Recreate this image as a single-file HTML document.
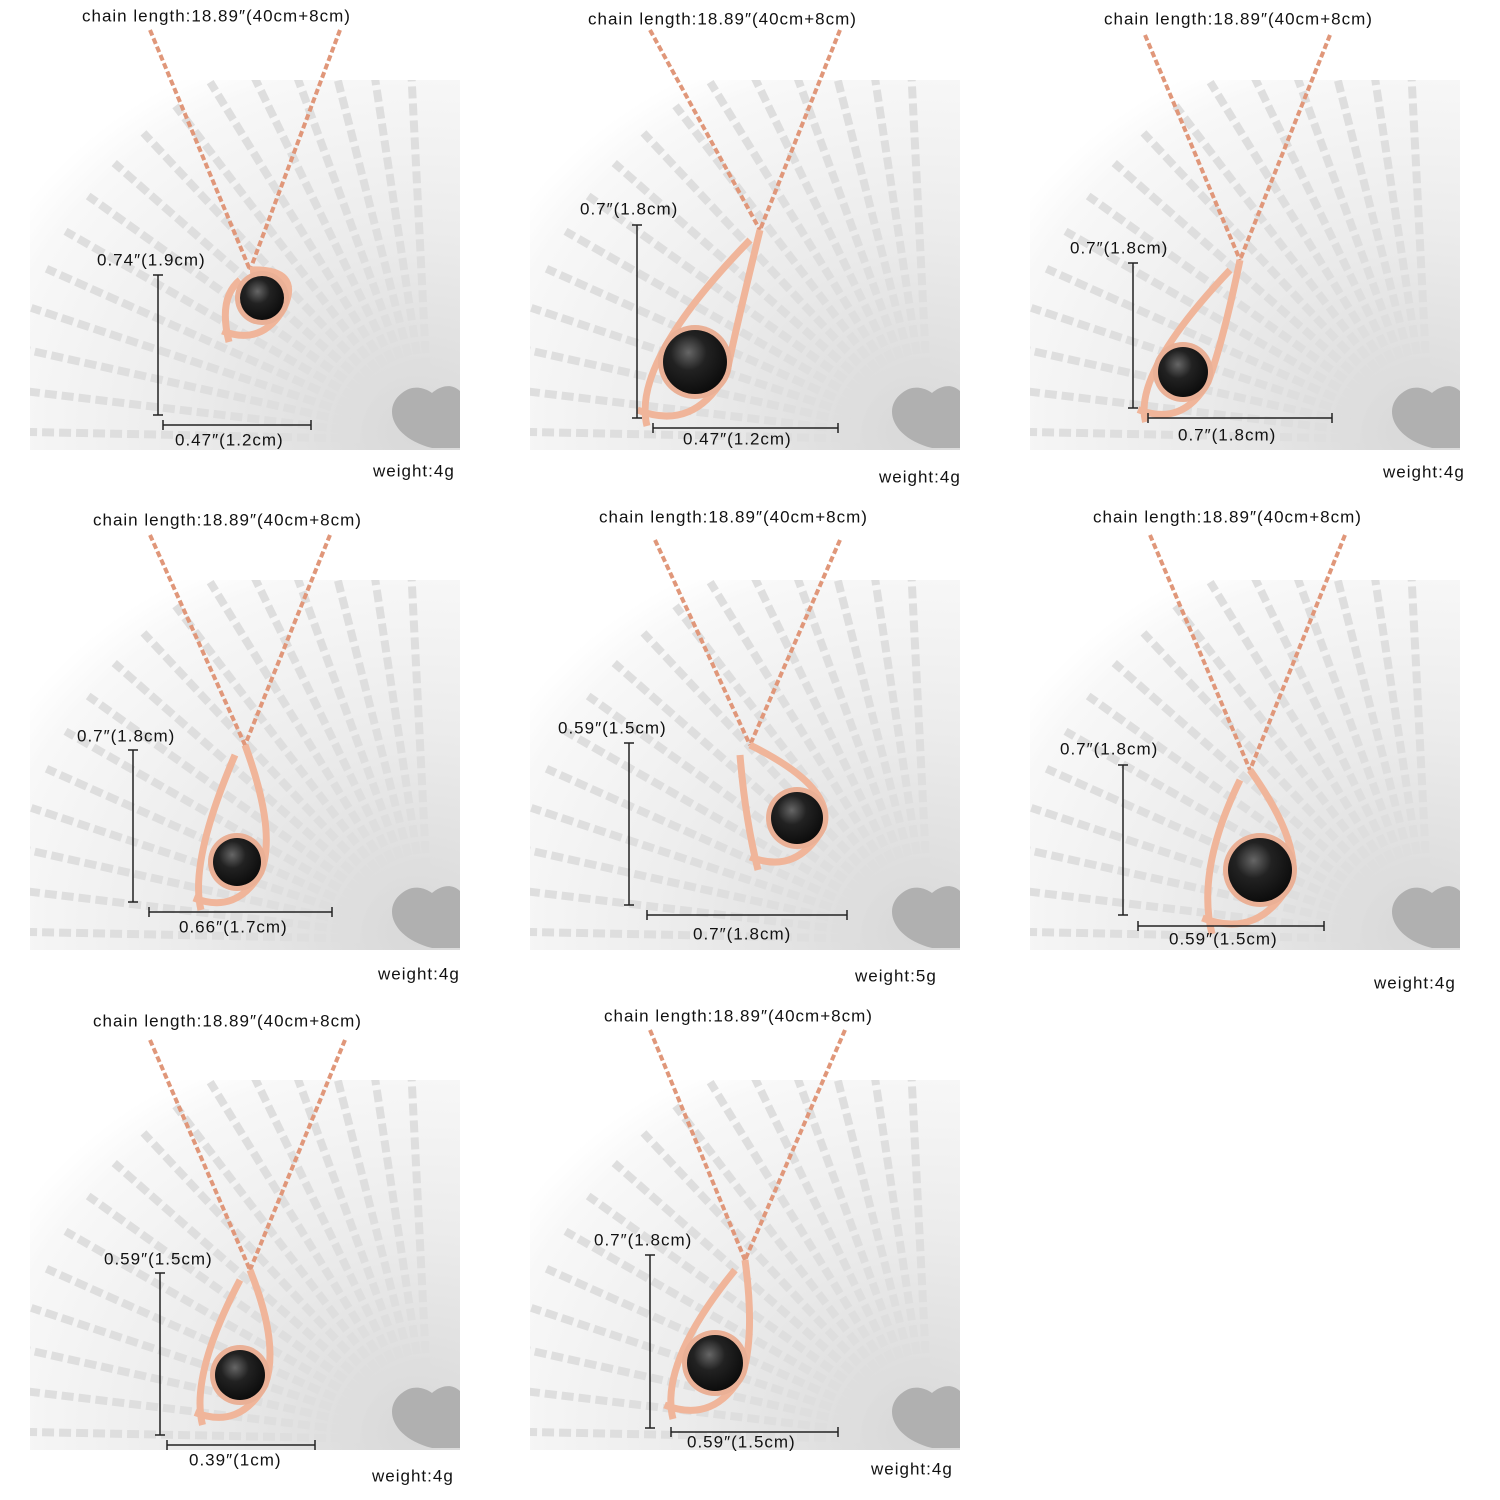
<!DOCTYPE html>
<html><head><meta charset="utf-8"><style>
html,body{margin:0;padding:0;background:#fff;overflow:hidden;width:1500px;height:1500px;}
svg{display:block;overflow:hidden;}
text{font-family:"Liberation Sans","Noto Sans CJK SC",sans-serif;font-size:17px;fill:#111;letter-spacing:1px;dominant-baseline:middle;}
</style></head><body>
<svg width="1500" height="1500" viewBox="0 0 1500 1500" xmlns="http://www.w3.org/2000/svg">
<defs>
<radialGradient id="bg" cx="0.9" cy="0.95" r="1.1">
<stop offset="0" stop-color="#d8d8d8"/><stop offset="0.5" stop-color="#ececec"/><stop offset="0.9" stop-color="#f8f8f8"/><stop offset="1" stop-color="#fff"/>
</radialGradient>
<radialGradient id="ball" cx="0.4" cy="0.35" r="0.7">
<stop offset="0" stop-color="#666"/><stop offset="0.4" stop-color="#222"/><stop offset="1" stop-color="#0a0a0a"/>
</radialGradient>
</defs>
<g id="panels"></g>
</svg>
<script>
const P=[
[0,0,[82,17],[97,261],[158,275,415],[425,163,311],[175,441],[373,472],[262,298,22],[150,30,340,30,250,270]],
[500,0,[588,20],[580,210],[637,225,418],[428,653,838],[683,440],[879,478],[695,362,32],[650,30,840,30,760,230]],
[1000,0,[1104,20],[1070,249],[1133,263,408],[418,1148,1332],[1178,436],[1383,473],[1183,372,25],[1145,35,1330,35,1240,260]],
[0,500,[93,521],[77,737],[133,750,902],[912,149,332],[179,928],[378,975],[237,862,24],[150,535,330,535,245,745]],
[500,500,[599,518],[558,729],[629,743,905],[915,647,847],[693,935],[855,977],[797,818,26],[655,540,840,540,750,745]],
[1000,500,[1093,518],[1060,750],[1123,765,915],[926,1138,1324],[1169,940],[1374,984],[1260,870,32],[1150,535,1345,535,1250,770]],
[0,1000,[93,1022],[104,1260],[160,1273,1435],[1445,167,315],[189,1461],[372,1477],[240,1375,25],[150,1040,345,1040,250,1270]],
[500,1000,[604,1017],[594,1241],[650,1255,1428],[1432,671,838],[687,1443],[871,1470],[715,1363,28],[650,1030,845,1030,745,1260]]
];
const vl=["0.74″(1.9cm)","0.7″(1.8cm)","0.7″(1.8cm)","0.7″(1.8cm)","0.59″(1.5cm)","0.7″(1.8cm)","0.59″(1.5cm)","0.7″(1.8cm)"];
const hl=["0.47″(1.2cm)","0.47″(1.2cm)","0.7″(1.8cm)","0.66″(1.7cm)","0.7″(1.8cm)","0.59″(1.5cm)","0.39″(1cm)","0.59″(1.5cm)"];
const wt=["weight:4g","weight:4g","weight:4g","weight:4g","weight:5g","weight:4g","weight:4g","weight:4g"];
let s="";
P.forEach((p,i)=>{
const [ox,oy,t,v,vv,hh,h,w,b,c]=p;
const rx=ox+30,ry=oy+80,rw=430,rh=370;
s+=`<clipPath id="cp${i}"><rect x="${rx}" y="${ry}" width="${rw}" height="${rh}"/></clipPath>`;
s+=`<g clip-path="url(#cp${i})"><rect x="${rx}" y="${ry}" width="${rw}" height="${rh}" fill="url(#bg)"/>`;
for(let k=0;k<16;k++){const a=0.02+k*0.1;const cx=ox+430,cy=oy+440;
s+=`<line x1="${cx-70*Math.cos(a)}" y1="${cy-70*Math.sin(a)}" x2="${cx-420*Math.cos(a)}" y2="${cy-420*Math.sin(a)}" stroke="#dedede" stroke-width="8" stroke-dasharray="12 5"/>`;}
s+=`<path d="M${ox+432} ${oy+448} c-40 -10 -50 -40 -30 -55 c15 -12 30 0 30 0 c0 0 15 -14 28 -2 l0 57z" fill="#b0b0b0"/></g>`;
s+=`<line x1="${c[0]}" y1="${c[1]}" x2="${c[4]}" y2="${c[5]}" stroke="#e0977a" stroke-width="4" stroke-dasharray="6 3"/>`;
s+=`<line x1="${c[2]}" y1="${c[3]}" x2="${c[4]}" y2="${c[5]}" stroke="#e0977a" stroke-width="4" stroke-dasharray="6 3"/>`;
const bx=b[0],by=b[1],r=b[2];
s+=`<path d="M${c[4]} ${c[5]} Q${bx+40} ${by-30} ${bx+r} ${by+10} Q${bx} ${by+r*2.2} ${bx-r*1.8} ${by+r*1.5} M${c[4]-10} ${c[5]+10} Q${bx-r*2} ${by} ${bx-r*1.5} ${by+r*2}" fill="none" stroke="#f0b59a" stroke-width="7"/>`;
s+=`<circle cx="${bx}" cy="${by}" r="${r+5}" fill="#eab096"/><circle cx="${bx}" cy="${by}" r="${r}" fill="url(#ball)"/>`;
s+=`<text x="${t[0]}" y="${t[1]}">chain length:18.89″(40cm+8cm)</text>`;
s+=`<text x="${v[0]}" y="${v[1]}">${vl[i]}</text>`;
s+=`<line x1="${vv[0]}" y1="${vv[1]}" x2="${vv[0]}" y2="${vv[2]}" stroke="#222" stroke-width="1.5"/>`;
s+=`<line x1="${vv[0]-5}" y1="${vv[1]}" x2="${vv[0]+5}" y2="${vv[1]}" stroke="#222" stroke-width="1.5"/><line x1="${vv[0]-5}" y1="${vv[2]}" x2="${vv[0]+5}" y2="${vv[2]}" stroke="#222" stroke-width="1.5"/>`;
s+=`<line x1="${hh[1]}" y1="${hh[0]}" x2="${hh[2]}" y2="${hh[0]}" stroke="#222" stroke-width="1.5"/>`;
s+=`<line x1="${hh[1]}" y1="${hh[0]-5}" x2="${hh[1]}" y2="${hh[0]+5}" stroke="#222" stroke-width="1.5"/><line x1="${hh[2]}" y1="${hh[0]-5}" x2="${hh[2]}" y2="${hh[0]+5}" stroke="#222" stroke-width="1.5"/>`;
s+=`<text x="${h[0]}" y="${h[1]}">${hl[i]}</text>`;
s+=`<text x="${w[0]}" y="${w[1]}">${wt[i]}</text>`;
});
document.getElementById("panels").innerHTML=s;
</script>
</body></html>
